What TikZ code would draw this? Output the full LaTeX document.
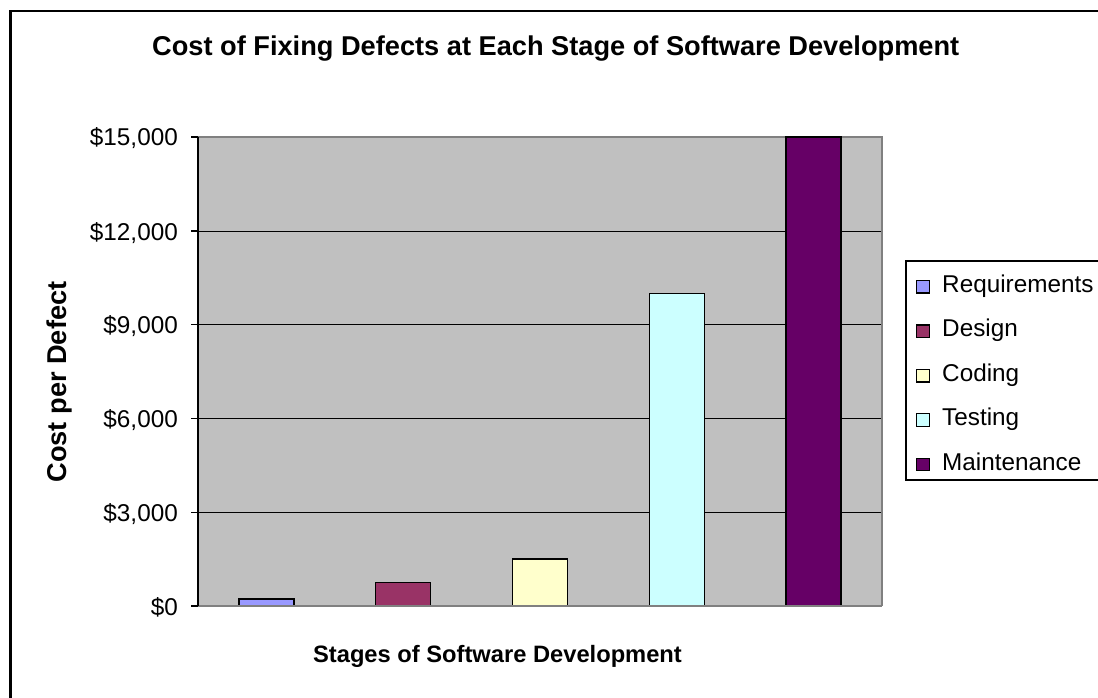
\documentclass[tikz,border=0pt]{standalone}
\usepackage{fontspec}
\setmainfont{Liberation Sans}
\definecolor{plotbg}{HTML}{C0C0C0}
\definecolor{frame}{HTML}{808080}
\definecolor{creq}{HTML}{9999FF}
\definecolor{cdes}{HTML}{993366}
\definecolor{ccod}{HTML}{FFFFCC}
\definecolor{ctes}{HTML}{CCFFFF}
\definecolor{cmai}{HTML}{660066}
\begin{document}
\begin{tikzpicture}[x=1bp,y=-1bp,
  lbl/.style={font=\fontsize{24.3bp}{29bp}\selectfont, inner sep=0pt},
  ttl/.style={font=\fontsize{27.2bp}{32bp}\selectfont\bfseries, inner sep=0pt},
  axttl/.style={font=\fontsize{23.7bp}{28bp}\selectfont\bfseries, inner sep=0pt},
  barbox/.style={draw=black, line width=1.5bp},
  gridline/.style={black, line width=1bp},
  keybox/.style={draw=black, line width=1.3bp, minimum size=12.5bp, inner sep=0pt}]
\useasboundingbox (0,0) rectangle (1098,698);
\clip (0,0) rectangle (1098,698);
\fill[white] (0,0) rectangle (1098,698);
% chart frame (runs past the page on the right and bottom)
\draw[line width=2.4bp] (10.5,720) -- (10.5,11.2) -- (1120,11.2);

% plot area
\fill[plotbg] (198,137) rectangle (882,606);
\foreach \yy in {231,324.8,418.6,512.4}
  \draw[gridline] (198,\yy) -- (882,\yy);
\draw[frame, line width=1.5bp] (198,137) -- (882,137) -- (882,606);

% bars: value v (in thousands) drawn to height 606 - v*469/15
\foreach \i/\v/\c in {0/0.225/creq,1/0.75/cdes,2/1.5/ccod,3/10/ctes,4/15/cmai}{
  \pgfmathsetmacro{\xc}{266.4+136.8*\i}
  \pgfmathsetmacro{\yt}{606-\v*469/15}
  \filldraw[barbox, fill=\c] (\xc-27.5,606) rectangle (\xc+27.5,\yt);
}

% axes
\draw[frame, line width=2bp] (198,606) -- (882,606);
\draw[black, line width=1.5bp] (198,137) -- (198,606);
\foreach \yy/\t [count=\k] in {137/{\$15,000},231/{\$12,000},324.8/{\$9,000},418.6/{\$6,000},512.4/{\$3,000},606/{\$0}}{
  \draw[black, line width=1.3bp] (191,\yy) -- (198,\yy);
  \node[lbl, anchor=base east] (tick\k) at (178,\yy+9) {\t};
}

% titles
\node[ttl, anchor=base west] (title) at (152,56) {Cost of Fixing Defects at Each Stage of Software Development};
\node[axttl, anchor=base] (xtitle) at (497.5,662) {Stages of Software Development};
\node[ttl, anchor=base, rotate=90] (ytitle) at (66,382) {Cost per Defect};

% legend
\draw[black, line width=1.5bp] (1120,261) -- (906,261) -- (906,480) -- (1120,480);
\foreach \t/\c/\yb [count=\k] in {Requirements/creq/292.3,Design/cdes/336.7,Coding/ccod/381.1,Testing/ctes/425.5,Maintenance/cmai/470}{
  \node[keybox, fill=\c] (key\k) at (923,\yb-5.5) {};
  \node[lbl, anchor=base west] (ktext\k) at (942,\yb) {\t};
}
\end{tikzpicture}
\end{document}
